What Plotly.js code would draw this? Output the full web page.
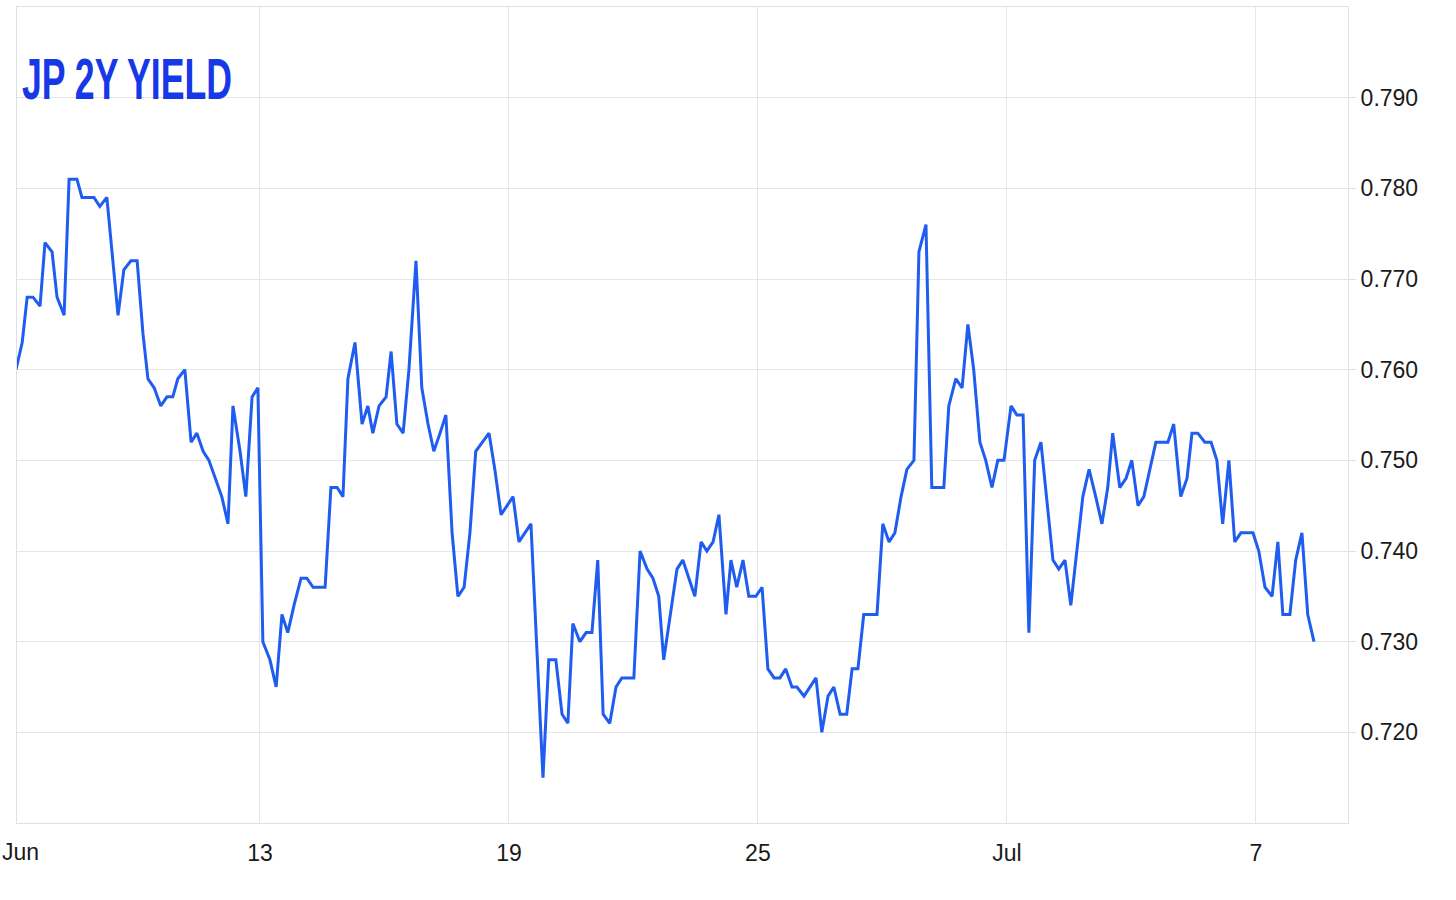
<!DOCTYPE html>
<html>
<head>
<meta charset="utf-8">
<script src="https://cdn.plot.ly/plotly-3.0.1.min.js"></script>
<style>
  html, body { margin: 0; padding: 0; background: #ffffff; }
  #chart { width: 1456px; height: 900px; }
</style>
</head>
<body>
<div id="chart"></div>
<script>
// Days elapsed since Jun 7 (00:00) for each observation
const dayOffset = [
  0.12, 0.27, 0.39, 0.53, 0.70, 0.82, 0.99, 1.11, 1.28, 1.40,
  1.59, 1.71, 2.00, 2.14, 2.31, 2.58, 2.72, 2.89, 3.04, 3.18,
  3.30, 3.45, 3.61, 3.76, 3.90, 4.02, 4.19, 4.34, 4.48, 4.63,
  4.77, 4.92, 5.08, 5.23, 5.35, 5.52, 5.66, 5.81, 5.95, 6.07,
  6.24, 6.39, 6.53, 6.67, 6.82, 6.99, 7.13, 7.28, 7.57, 7.71,
  7.86, 8.00, 8.12, 8.29, 8.46, 8.60, 8.72, 8.87, 9.04, 9.16,
  9.30, 9.45, 9.59, 9.76, 9.90, 10.05, 10.19, 10.34, 10.48, 10.63,
  10.77, 10.92, 11.06, 11.20, 11.52, 11.66, 11.81, 12.10, 12.24, 12.53,
  12.82, 12.96, 13.13, 13.28, 13.42, 13.54, 13.71, 13.86, 14.00, 14.14,
  14.27, 14.43, 14.58, 14.72, 15.01, 15.16, 15.33, 15.47, 15.61, 15.73,
  16.05, 16.19, 16.34, 16.48, 16.63, 16.77, 16.92, 17.06, 17.23, 17.35,
  17.49, 17.64, 17.78, 17.95, 18.10, 18.24, 18.39, 18.53, 18.67, 18.82,
  18.94, 19.11, 19.40, 19.54, 19.69, 19.83, 19.98, 20.14, 20.27, 20.41,
  20.55, 20.87, 21.01, 21.16, 21.30, 21.45, 21.59, 21.76, 21.88, 22.05,
  22.19, 22.48, 22.60, 22.77, 22.92, 23.06, 23.20, 23.35, 23.49, 23.64,
  23.78, 23.93, 24.10, 24.24, 24.39, 24.53, 24.67, 24.82, 25.11, 25.25,
  25.40, 25.54, 25.83, 25.98, 26.14, 26.29, 26.43, 26.55, 26.72, 26.87,
  27.01, 27.16, 27.30, 27.59, 27.88, 28.02, 28.19, 28.34, 28.46, 28.60,
  28.77, 28.92, 29.06, 29.20, 29.35, 29.49, 29.64, 29.93, 30.07, 30.22,
  30.39, 30.53, 30.65, 30.82, 30.96, 31.11, 31.25, 31.40
];

// JP 2Y yield values (%)
const yieldValues = [
  0.760, 0.763, 0.768, 0.768, 0.767, 0.774, 0.773, 0.768, 0.766, 0.781,
  0.781, 0.779, 0.779, 0.778, 0.779, 0.766, 0.771, 0.772, 0.772, 0.764,
  0.759, 0.758, 0.756, 0.757, 0.757, 0.759, 0.760, 0.752, 0.753, 0.751,
  0.750, 0.748, 0.746, 0.743, 0.756, 0.751, 0.746, 0.757, 0.758, 0.730,
  0.728, 0.725, 0.733, 0.731, 0.734, 0.737, 0.737, 0.736, 0.736, 0.747,
  0.747, 0.746, 0.759, 0.763, 0.754, 0.756, 0.753, 0.756, 0.757, 0.762,
  0.754, 0.753, 0.760, 0.772, 0.758, 0.754, 0.751, 0.753, 0.755, 0.742,
  0.735, 0.736, 0.742, 0.751, 0.753, 0.749, 0.744, 0.746, 0.741, 0.743,
  0.715, 0.728, 0.728, 0.722, 0.721, 0.732, 0.730, 0.731, 0.731, 0.739,
  0.722, 0.721, 0.725, 0.726, 0.726, 0.740, 0.738, 0.737, 0.735, 0.728,
  0.738, 0.739, 0.737, 0.735, 0.741, 0.740, 0.741, 0.744, 0.733, 0.739,
  0.736, 0.739, 0.735, 0.735, 0.736, 0.727, 0.726, 0.726, 0.727, 0.725,
  0.725, 0.724, 0.726, 0.720, 0.724, 0.725, 0.722, 0.722, 0.727, 0.727,
  0.733, 0.733, 0.743, 0.741, 0.742, 0.746, 0.749, 0.750, 0.773, 0.776,
  0.747, 0.747, 0.756, 0.759, 0.758, 0.765, 0.760, 0.752, 0.750, 0.747,
  0.750, 0.750, 0.756, 0.755, 0.755, 0.731, 0.750, 0.752, 0.739, 0.738,
  0.739, 0.734, 0.746, 0.749, 0.746, 0.743, 0.747, 0.753, 0.747, 0.748,
  0.750, 0.745, 0.746, 0.752, 0.752, 0.754, 0.746, 0.748, 0.753, 0.753,
  0.752, 0.752, 0.750, 0.743, 0.750, 0.741, 0.742, 0.742, 0.740, 0.736,
  0.735, 0.741, 0.733, 0.733, 0.739, 0.742, 0.733, 0.730
];

// Tick labels (day offsets from Jun 7)
const xTickDays = [6, 12, 18, 24, 30];
const xTickLabels = ['13', '19', '25', 'Jul', '7'];
const firstTickLabel = 'Jun';
const yTickValues = [0.72, 0.73, 0.74, 0.75, 0.76, 0.77, 0.78, 0.79];
const chartTitle = 'JP 2Y YIELD';

const trace = {
  x: dayOffset,
  y: yieldValues,
  type: 'scatter',
  mode: 'lines',
  line: { color: '#1f5cf0', width: 3, shape: 'linear' },
  hoverinfo: 'x+y'
};

const tickFont = { family: 'Liberation Sans, Arial, sans-serif', size: 23, color: '#1a1a1a' };

const layout = {
  width: 1456,
  height: 900,
  margin: { l: 17, r: 108, t: 7, b: 77 },
  paper_bgcolor: '#ffffff',
  plot_bgcolor: '#ffffff',
  showlegend: false,
  xaxis: {
    range: [0.145, 32.22],
    tickmode: 'array',
    tickvals: xTickDays,
    ticktext: xTickLabels,
    showgrid: true,
    gridcolor: '#e6e6e6',
    gridwidth: 1,
    zeroline: false,
    showline: true,
    linecolor: '#e0e0e0',
    linewidth: 1,
    mirror: true,
    ticks: '',
    ticklabelstandoff: 9,
    tickfont: tickFont
  },
  yaxis: {
    range: [0.710, 0.800],
    side: 'right',
    tickmode: 'array',
    tickvals: yTickValues,
    tickformat: '.3f',
    showgrid: true,
    gridcolor: '#e6e6e6',
    gridwidth: 1,
    zeroline: false,
    showline: true,
    linecolor: '#e0e0e0',
    linewidth: 1,
    mirror: true,
    ticks: 'outside',
    ticklen: 7,
    tickcolor: '#e0e0e0',
    tickfont: tickFont
  },
  annotations: [
    {
      text: chartTitle,
      xref: 'paper', yref: 'paper',
      x: 0.002, y: 0.912,
      xanchor: 'left', yanchor: 'middle',
      showarrow: false,
      font: { family: 'Liberation Sans, Arial, sans-serif', size: 58, color: '#1638e6', weight: 700 }
    },
    {
      text: firstTickLabel,
      xref: 'paper', yref: 'paper',
      x: -0.0128, y: -0.0355,
      xanchor: 'left', yanchor: 'middle',
      showarrow: false,
      font: tickFont
    }
  ]
};

Plotly.newPlot('chart', [trace], layout, { displayModeBar: false, staticPlot: true }).then(function (gd) {
  // Condense the title horizontally to mimic a narrow display face
  const texts = gd.querySelectorAll('.annotation-text');
  texts.forEach(function (t) {
    if (t.textContent === chartTitle) {
      const bb = t.getBBox();
      const targetWidth = 210;
      const s = targetWidth / bb.width;
      const x0 = bb.x;
      t.setAttribute('transform', 'translate(' + x0 + ',0) scale(' + s + ',1) translate(' + (-x0) + ',0)');
    }
  });
});
</script>
</body>
</html>
